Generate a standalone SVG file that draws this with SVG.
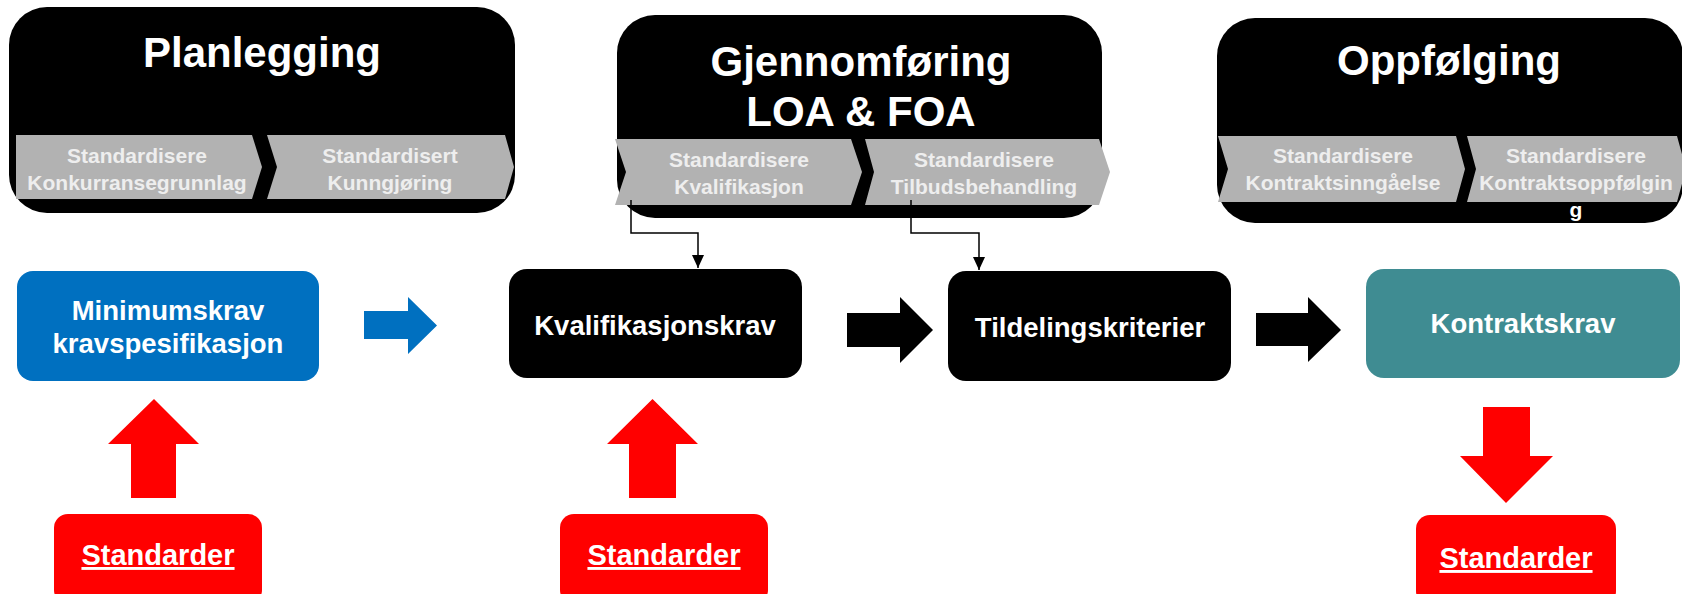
<svg xmlns="http://www.w3.org/2000/svg" width="1682" height="594" viewBox="0 0 1682 594">
  <style>
    text { font-family: "Liberation Sans", Arial, sans-serif; font-weight: bold; text-anchor: middle; }
    .phase { fill: #000000; }
    .title { fill: #ffffff; font-size: 42px; }
    .step { fill: #b2b2b2; }
    .steptxt { fill: #eeeeee; font-size: 21px; }
    .node { fill: #000000; }
    .nodetxt { fill: #ffffff; font-size: 27.5px; }
    .std { fill: #ff0000; }
    .stdtxt { fill: #ffffff; font-size: 29px; text-decoration: underline; }
    .link { fill: none; stroke: #000000; stroke-width: 1.5; }
    .red { fill: #ff0000; }
  </style>
  <defs>
    <marker id="tip" markerWidth="13" markerHeight="12" refX="13" refY="6" orient="auto" markerUnits="userSpaceOnUse">
      <path d="M0,0 L13,6 L0,12 Z" fill="#000000"/>
    </marker>
  </defs>

  <!-- Phase: Planlegging -->
  <g id="phase-planlegging">
    <rect class="phase" x="9" y="7" width="506" height="206" rx="38" ry="38"/>
    <text class="title" x="262" y="67">Planlegging</text>
    <path class="step" d="M16,135 L252,135 L262,167 L252,199 L16,199 Z"/>
    <text class="steptxt" x="137" y="163">Standardisere</text>
    <text class="steptxt" x="137" y="190">Konkurransegrunnlag</text>
    <path class="step" d="M267,135 L505,135 L514,167 L505,199 L267,199 L277,167 Z"/>
    <text class="steptxt" x="390" y="163">Standardisert</text>
    <text class="steptxt" x="390" y="190">Kunngjøring</text>
  </g>

  <!-- Phase: Gjennomføring -->
  <g id="phase-gjennomforing">
    <rect class="phase" x="617" y="15" width="485" height="203" rx="38" ry="38"/>
    <text class="title" x="861" y="76">Gjennomføring</text>
    <text class="title" x="861" y="126">LOA &amp; FOA</text>
    <path class="step" d="M615,139 L851,139 L862,172 L851,205 L615,205 L626,172 Z"/>
    <text class="steptxt" x="739" y="167">Standardisere</text>
    <text class="steptxt" x="739" y="194">Kvalifikasjon</text>
    <path class="step" d="M865,139 L1099,139 L1110,172 L1099,205 L865,205 L874,172 Z"/>
    <text class="steptxt" x="984" y="167">Standardisere</text>
    <text class="steptxt" x="984" y="194">Tilbudsbehandling</text>
  </g>

  <!-- Phase: Oppfølging -->
  <g id="phase-oppfolging">
    <rect class="phase" x="1217" y="18" width="466" height="205" rx="38" ry="38"/>
    <text class="title" x="1449" y="75">Oppfølging</text>
    <path class="step" d="M1218,136 L1456,136 L1465,169 L1456,202 L1218,202 L1228,169 Z"/>
    <text class="steptxt" x="1343" y="163">Standardisere</text>
    <text class="steptxt" x="1343" y="190">Kontraktsinngåelse</text>
    <path class="step" d="M1467,136 L1677,136 L1686,169 L1677,202 L1467,202 L1476,169 Z"/>
    <text class="steptxt" x="1576" y="163">Standardisere</text>
    <text class="steptxt" x="1576" y="190">Kontraktsoppfølgin</text>
    <text class="steptxt" x="1576" y="217" style="fill:#ffffff">g</text>
  </g>

  <!-- Requirement nodes -->
  <g id="node-minimumskrav">
    <rect x="17" y="271" width="302" height="110" rx="16" ry="16" fill="#0070c0"/>
    <text class="nodetxt" x="168" y="320">Minimumskrav</text>
    <text class="nodetxt" x="168" y="353">kravspesifikasjon</text>
  </g>
  <g id="node-kvalifikasjonskrav">
    <rect class="node" x="509" y="269" width="293" height="109" rx="18" ry="18"/>
    <text class="nodetxt" x="655" y="335">Kvalifikasjonskrav</text>
  </g>
  <g id="node-tildelingskriterier">
    <rect class="node" x="948" y="271" width="283" height="110" rx="18" ry="18"/>
    <text class="nodetxt" x="1090" y="337">Tildelingskriterier</text>
  </g>
  <g id="node-kontraktskrav">
    <rect x="1366" y="269" width="314" height="109" rx="18" ry="18" fill="#3f8c92"/>
    <text class="nodetxt" x="1523" y="333">Kontraktskrav</text>
  </g>

  <!-- Standards nodes -->
  <g id="std-1">
    <rect class="std" x="54" y="514" width="208" height="90" rx="14" ry="14"/>
    <text class="stdtxt" x="158" y="565">Standarder</text>
  </g>
  <g id="std-2">
    <rect class="std" x="560" y="514" width="208" height="90" rx="14" ry="14"/>
    <text class="stdtxt" x="664" y="565">Standarder</text>
  </g>
  <g id="std-3">
    <rect class="std" x="1416" y="515" width="200" height="90" rx="14" ry="14"/>
    <text class="stdtxt" x="1516" y="568">Standarder</text>
  </g>

  <!-- Connectors -->
  <g id="connectors">
    <path class="link" d="M631,200 V233 H698 V268" marker-end="url(#tip)"/>
    <path class="link" d="M911,200 V233 H979 V270" marker-end="url(#tip)"/>
    <path d="M364,311 H408 V297 L437,325.5 L408,354 V339 H364 Z" fill="#0070c0"/>
    <path d="M847,313 H900 V297 L933,330 L900,363 V347 H847 Z" fill="#000000"/>
    <path d="M1256,313 H1308 V297 L1341,330 L1308,362 V346 H1256 Z" fill="#000000"/>
    <path class="red" d="M131,498 V444 H108 L154,399 L199,444 H176 V498 Z"/>
    <path class="red" d="M629,498 V444 H607 L652.5,399 L698,444 H676 V498 Z"/>
    <path class="red" d="M1483,407 V456 H1460 L1506,503 L1553,456 H1530 V407 Z"/>
  </g>
</svg>
